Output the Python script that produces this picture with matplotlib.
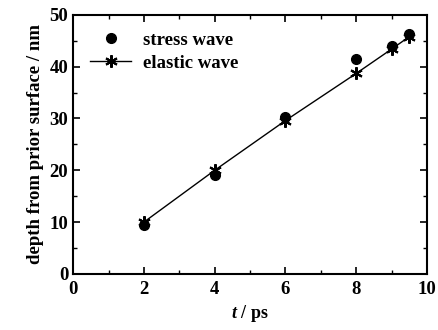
import matplotlib.pyplot as plt
from matplotlib.ticker import MultipleLocator

plt.rcParams['font.family'] = 'Liberation Serif'
plt.rcParams['font.weight'] = 'bold'
plt.rcParams['mathtext.fontset'] = 'custom'
plt.rcParams['mathtext.it'] = 'Liberation Serif:italic:bold'
plt.rcParams['mathtext.rm'] = 'Liberation Serif:bold'

# data
t = [2, 4, 6, 8, 9, 9.5]
stress_wave = [9.4, 19.1, 30.2, 41.4, 43.9, 46.3]
elastic_wave = [10.0, 20.0, 29.6, 38.7, 43.4, 45.8]

fig, ax = plt.subplots(figsize=(4.38, 3.3), dpi=100)
ax.plot(t, stress_wave, 'o', color='black', markersize=7, label='stress wave', zorder=3)
ax.plot(t, elastic_wave, '-', color='black', lw=1, marker=(6, 2, 0),
        markersize=9, mew=1.5, label='elastic wave')

ax.set_xlim(0, 10)
ax.set_ylim(0, 50)
ax.xaxis.set_major_locator(MultipleLocator(2))
ax.xaxis.set_minor_locator(MultipleLocator(1))
ax.yaxis.set_major_locator(MultipleLocator(10))
ax.yaxis.set_minor_locator(MultipleLocator(5))
ax.tick_params(which='both', direction='in', top=True, right=True, labelsize=13.5)
ax.tick_params(axis='x', pad=5)
ax.tick_params(which='major', length=5, width=1.2)
ax.tick_params(which='minor', length=3, width=1)
for s in ax.spines.values():
    s.set_linewidth(1.5)

ax.set_xlabel(r'$t$ / ps', fontsize=13, fontweight='bold', labelpad=4)
ax.set_ylabel('depth from prior surface / nm', fontsize=13.5, fontweight='bold')
ax.legend(loc='upper left', frameon=False, fontsize=13.5, handlelength=2.2,
          borderaxespad=0.5, labelspacing=0.3, handletextpad=0.6)

plt.subplots_adjust(left=0.167, right=0.975, top=0.955, bottom=0.17)
plt.savefig('out.png')
